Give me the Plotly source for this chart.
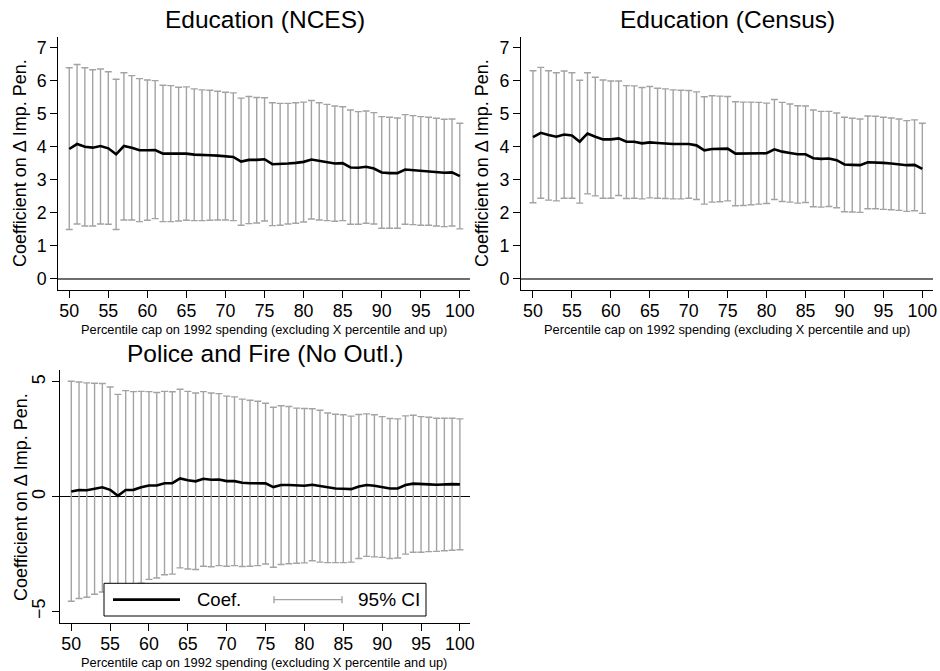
import plotly.graph_objects as go

pct = list(range(50, 101))

nces_coef = [3.93, 4.08, 4.00, 3.97, 4.02, 3.95, 3.77, 4.02, 3.97, 3.89, 3.89, 3.90, 3.79, 3.79, 3.77, 3.79, 3.76,
             3.74, 3.74, 3.73, 3.72, 3.69, 3.55, 3.60, 3.60, 3.62, 3.47, 3.47, 3.49, 3.51, 3.54, 3.61, 3.57, 3.54,
             3.49, 3.50, 3.37, 3.36, 3.39, 3.34, 3.22, 3.20, 3.20, 3.31, 3.29, 3.26, 3.26, 3.24, 3.21, 3.22, 3.11]
nces_hi = [6.39, 6.49, 6.39, 6.33, 6.35, 6.27, 6.04, 6.24, 6.15, 6.06, 6.02, 6.00, 5.86, 5.85, 5.80, 5.81, 5.75,
           5.72, 5.71, 5.68, 5.65, 5.63, 5.47, 5.52, 5.49, 5.48, 5.33, 5.31, 5.31, 5.33, 5.35, 5.40, 5.33, 5.28,
           5.23, 5.21, 5.11, 5.06, 5.08, 5.03, 4.91, 4.89, 4.87, 4.97, 4.94, 4.91, 4.89, 4.86, 4.83, 4.84, 4.71]
nces_lo = [1.49, 1.66, 1.60, 1.60, 1.66, 1.65, 1.49, 1.78, 1.78, 1.73, 1.77, 1.82, 1.73, 1.73, 1.75, 1.77, 1.76,
           1.76, 1.77, 1.78, 1.78, 1.76, 1.62, 1.67, 1.69, 1.75, 1.61, 1.62, 1.66, 1.68, 1.72, 1.81, 1.78, 1.76,
           1.74, 1.76, 1.65, 1.65, 1.68, 1.66, 1.53, 1.53, 1.53, 1.65, 1.64, 1.62, 1.62, 1.60, 1.58, 1.60, 1.51]

census_coef = [4.29, 4.42, 4.35, 4.30, 4.37, 4.34, 4.15, 4.40, 4.30, 4.22, 4.22, 4.25, 4.15, 4.15, 4.10, 4.13, 4.11,
               4.09, 4.08, 4.08, 4.08, 4.04, 3.89, 3.93, 3.93, 3.94, 3.79, 3.79, 3.80, 3.81, 3.80, 3.92, 3.85, 3.81,
               3.77, 3.77, 3.65, 3.63, 3.64, 3.59, 3.46, 3.45, 3.44, 3.53, 3.53, 3.51, 3.49, 3.47, 3.44, 3.45, 3.33]
census_hi = [6.30, 6.40, 6.30, 6.24, 6.29, 6.24, 6.01, 6.24, 6.10, 6.02, 5.99, 5.99, 5.85, 5.84, 5.79, 5.82, 5.77,
             5.75, 5.72, 5.71, 5.70, 5.66, 5.51, 5.54, 5.53, 5.52, 5.36, 5.35, 5.35, 5.34, 5.32, 5.43, 5.34, 5.29,
             5.24, 5.23, 5.11, 5.07, 5.07, 5.02, 4.89, 4.86, 4.84, 4.93, 4.92, 4.89, 4.87, 4.84, 4.79, 4.81, 4.71]
census_lo = [2.30, 2.44, 2.38, 2.36, 2.44, 2.44, 2.29, 2.57, 2.51, 2.44, 2.44, 2.52, 2.43, 2.44, 2.42, 2.45, 2.44,
             2.43, 2.42, 2.42, 2.44, 2.40, 2.26, 2.32, 2.33, 2.36, 2.21, 2.22, 2.24, 2.26, 2.28, 2.40, 2.34, 2.32,
             2.29, 2.31, 2.18, 2.17, 2.19, 2.15, 2.03, 2.02, 2.01, 2.12, 2.12, 2.10, 2.09, 2.07, 2.04, 2.06, 1.98]

pf_coef = [0.23, 0.29, 0.28, 0.36, 0.41, 0.30, 0.04, 0.29, 0.30, 0.41, 0.49, 0.49, 0.59, 0.59, 0.80, 0.72, 0.67,
           0.78, 0.74, 0.75, 0.68, 0.68, 0.61, 0.59, 0.59, 0.58, 0.42, 0.51, 0.51, 0.48, 0.48, 0.52, 0.46, 0.39,
           0.36, 0.35, 0.33, 0.45, 0.51, 0.48, 0.43, 0.36, 0.36, 0.51, 0.57, 0.54, 0.54, 0.52, 0.54, 0.55, 0.54]
pf_hi = [5.03, 5.00, 4.96, 4.94, 4.93, 4.78, 4.46, 4.62, 4.58, 4.59, 4.58, 4.54, 4.59, 4.57, 4.68, 4.59, 4.52,
         4.58, 4.52, 4.49, 4.38, 4.35, 4.25, 4.20, 4.16, 4.07, 3.90, 3.96, 3.93, 3.86, 3.84, 3.83, 3.77, 3.65,
         3.59, 3.57, 3.51, 3.58, 3.61, 3.57, 3.49, 3.41, 3.39, 3.52, 3.55, 3.49, 3.46, 3.42, 3.42, 3.42, 3.39]
pf_lo = [-4.55, -4.43, -4.38, -4.25, -4.15, -4.15, -4.38, -4.04, -3.98, -3.77, -3.60, -3.54, -3.40, -3.37, -3.10,
         -3.15, -3.17, -3.03, -3.05, -3.00, -3.03, -3.00, -3.04, -3.03, -3.00, -2.93, -3.07, -2.95, -2.92, -2.90,
         -2.88, -2.79, -2.85, -2.87, -2.87, -2.87, -2.85, -2.69, -2.60, -2.62, -2.64, -2.69, -2.67, -2.50, -2.42,
         -2.42, -2.39, -2.38, -2.35, -2.33, -2.31]

panels = [
    ("Education (NCES)", nces_coef, nces_hi, nces_lo),
    ("Education (Census)", census_coef, census_hi, census_lo),
    ("Police and Fire (No Outl.)", pf_coef, pf_hi, pf_lo),
]
x_title = "Percentile cap on 1992 spending (excluding X percentile and up)"
y_title = "Coefficient on Δ Imp. Pen."

W, H = 940, 671
FONT = "Liberation Sans, Arial, Helvetica, sans-serif"
CI_COLOR = "#a3a3a3"
TICK_SIZE = 17.8

def px(x):
    return x / W

def py(y):
    return 1 - y / H

# plot-area boxes in pixels: (left, right, top, bottom)
boxes = [(58.3, 470, 36.7, 290), (521, 933, 36.7, 290), (60.3, 470, 370, 623)]
yranges = [[-0.34, 7.33], [-0.34, 7.33], [-5.5, 5.52]]
xranges = [[48.6, 101.3], [48.46, 101.37], [48.59, 101.3]]
title_pos = [(265, 20), (727, 20), (265, 353)]
xtitle_pos = [(264, 329), (727, 329), (264, 662)]
ytitle_pos = [(20, 163), (482, 163), (21, 497)]

fig = go.Figure()
annotations = []
for i, (title, coef, hi, lo) in enumerate(panels):
    ax = "" if i == 0 else str(i + 1)
    plus = [h - c for h, c in zip(hi, coef)]
    minus = [c - l for c, l in zip(coef, lo)]
    fig.add_trace(go.Scatter(
        x=pct, y=coef, mode="markers", xaxis="x" + ax, yaxis="y" + ax,
        marker=dict(size=1, color="rgba(0,0,0,0)"), showlegend=False, hoverinfo="skip",
        error_y=dict(type="data", symmetric=False, array=plus, arrayminus=minus,
                     color=CI_COLOR, thickness=1.4, width=3.5),
    ))
    fig.add_trace(go.Scatter(
        x=pct, y=coef, mode="lines", xaxis="x" + ax, yaxis="y" + ax,
        line=dict(color="black", width=2.6), showlegend=False,
    ))
    l, r, t, b = boxes[i]
    xa = dict(domain=[px(l), px(r)], range=xranges[i], anchor="y" + ax, automargin=False,
              tickvals=list(range(50, 101, 5)), ticks="outside", ticklen=7, tickcolor="black",
              ticklabelstandoff=-2,
              showline=True, linecolor="black", linewidth=1, showgrid=False, zeroline=False,
              tickfont=dict(size=TICK_SIZE, color="black", family=FONT))
    common_y = dict(domain=[py(b), py(t)], range=yranges[i], anchor="x" + ax, automargin=False,
                    ticks="outside", ticklen=7, tickcolor="black",
                    showline=True, linecolor="black", linewidth=1, showgrid=False, zeroline=True,
                    tickfont=dict(size=TICK_SIZE, color="black", family=FONT))
    if i < 2:
        ya = dict(common_y, tickvals=list(range(0, 8)), zerolinecolor="#6e6e6e", zerolinewidth=2)
    else:
        ya = dict(common_y, tickvals=[-5, 0, 5], tickangle=-90, zerolinecolor="black", zerolinewidth=1)
    fig.layout["xaxis" + ax] = xa
    fig.layout["yaxis" + ax] = ya

    cx, cy = title_pos[i]
    annotations.append(dict(text=title, x=px(cx), y=py(cy), xref="paper", yref="paper",
                            xanchor="center", yanchor="middle", showarrow=False,
                            font=dict(size=24.5, color="black", family=FONT)))
    tx, ty = xtitle_pos[i]
    annotations.append(dict(text=x_title, x=px(tx), y=py(ty), xref="paper", yref="paper",
                            xanchor="center", yanchor="middle", showarrow=False,
                            font=dict(size=12.8, color="black", family=FONT)))
    vx, vy = ytitle_pos[i]
    annotations.append(dict(text=y_title, x=px(vx), y=py(vy), xref="paper", yref="paper",
                            xanchor="center", yanchor="middle", showarrow=False, textangle=-90,
                            font=dict(size=18, color="black", family=FONT)))

# legend (in the third panel)
lx0, lx1, ly0, ly1 = 104, 426, 583.3, 616
lym = (ly0 + ly1) / 2
shapes = [
    dict(type="rect", xref="paper", yref="paper", x0=px(lx0), x1=px(lx1), y0=py(ly1), y1=py(ly0),
         fillcolor="white", line=dict(color="black", width=1), layer="above"),
    dict(type="line", xref="paper", yref="paper", x0=px(113), x1=px(180), y0=py(lym), y1=py(lym),
         line=dict(color="black", width=2.6), layer="above"),
    dict(type="line", xref="paper", yref="paper", x0=px(274), x1=px(342), y0=py(lym), y1=py(lym),
         line=dict(color=CI_COLOR, width=1.4), layer="above"),
    dict(type="line", xref="paper", yref="paper", x0=px(274), x1=px(274), y0=py(lym - 3.5), y1=py(lym + 3.5),
         line=dict(color=CI_COLOR, width=1.4), layer="above"),
    dict(type="line", xref="paper", yref="paper", x0=px(342), x1=px(342), y0=py(lym - 3.5), y1=py(lym + 3.5),
         line=dict(color=CI_COLOR, width=1.4), layer="above"),
]
annotations.append(dict(text="Coef.", x=px(195), y=py(lym), xref="paper", yref="paper",
                        xanchor="left", yanchor="middle", showarrow=False,
                        font=dict(size=18.5, color="black", family=FONT)))
annotations.append(dict(text="95% CI", x=px(356), y=py(lym), xref="paper", yref="paper",
                        xanchor="left", yanchor="middle", showarrow=False,
                        font=dict(size=19, color="black", family=FONT)))

fig.update_layout(
    width=W, height=H, margin=dict(l=0, r=0, t=0, b=0),
    paper_bgcolor="white", plot_bgcolor="white",
    font=dict(family=FONT, color="black"),
    annotations=annotations, shapes=shapes, showlegend=False,
)

fig.write_html("out.html", config={"displayModeBar": False},
               post_script="document.body.style.margin='0';")
